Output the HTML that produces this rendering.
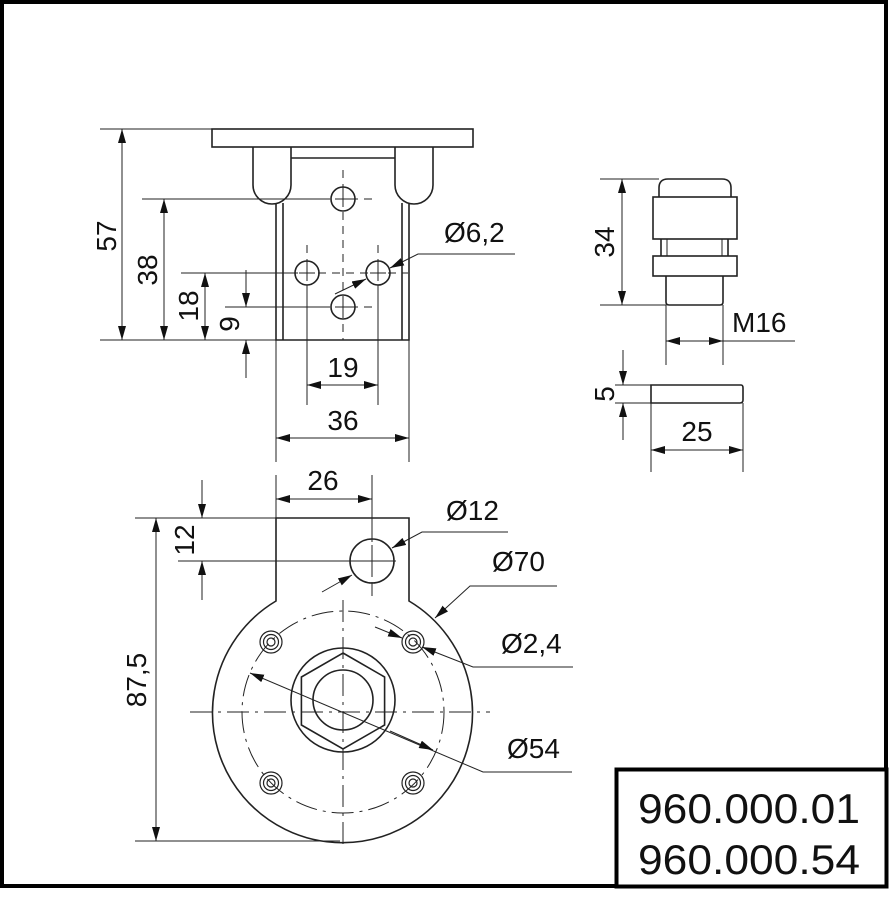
<!DOCTYPE html>
<html><head><meta charset="utf-8"><style>
html,body{margin:0;padding:0;background:#fff;}
svg{display:block;}
text{font-family:"Liberation Sans",sans-serif;fill:#111;}
</style></head><body>
<svg width="893" height="918" viewBox="0 0 893 918" xmlns="http://www.w3.org/2000/svg">
<defs>
<marker id="a" viewBox="0 0 14 8" refX="14" refY="4" markerWidth="14" markerHeight="8" markerUnits="userSpaceOnUse" orient="auto-start-reverse">
<path d="M0,0 L14,4 L0,8 Z" fill="#111"/>
</marker>
</defs>
<rect x="2" y="2" width="884" height="884" fill="none" stroke="#000" stroke-width="4"/>

<g fill="none" stroke="#222" stroke-width="1.6">
<rect x="212" y="129" width="261" height="18"/>
<path d="M253,147 V185 A19,19 0 0 0 291,185 V147"/>
<path d="M395,147 V185 A19,19 0 0 0 433,185 V147"/>
<path d="M291,158 H395"/>
<path d="M276,203 V340 H409 V203"/>
<path d="M283,203 V340 M402,203 V340"/>
<circle cx="343" cy="199" r="12"/>
<circle cx="307" cy="273" r="12"/>
<circle cx="378" cy="273" r="12"/>
<circle cx="343" cy="307" r="12"/>
</g>
<g stroke="#222" stroke-width="1" fill="none">
<path d="M335,199 H351 M343,191 V207 M299,273 H315 M307,265 V281 M370,273 H386 M378,265 V281 M335,307 H351 M343,299 V315"/>
<path d="M343,170 V340" stroke-dasharray="8,6"/>
<path d="M307,245 V340 M378,245 V340" stroke-dasharray="8,6"/>
<path d="M322,199 H373 M290,273 H408 M322,307 H373" stroke-dasharray="8,6"/>
<path d="M100,129 H212 M100,340 H276 M142,199 H322 M181,273 H290 M225,307 H322"/>
<path d="M307,285 V405 M378,285 V405 M276,340 V462 M409,340 V462"/>
<path d="M122,129 V340" marker-start="url(#a)" marker-end="url(#a)"/>
<path d="M164,199 V340" marker-start="url(#a)" marker-end="url(#a)"/>
<path d="M205,273 V340" marker-start="url(#a)" marker-end="url(#a)"/>
<path d="M246,270 V307" marker-end="url(#a)"/>
<path d="M246,378 V340" marker-end="url(#a)"/>
<path d="M307,385 H378" marker-start="url(#a)" marker-end="url(#a)"/>
<path d="M276,438 H409" marker-start="url(#a)" marker-end="url(#a)"/>
<path d="M515,254 H418 L390,268" marker-end="url(#a)"/>
<path d="M335,294 L366,279" marker-end="url(#a)"/>
</g>
<g font-size="28">
<text transform="translate(116,236) rotate(-90)" text-anchor="middle">57</text>
<text transform="translate(157,270) rotate(-90)" text-anchor="middle">38</text>
<text transform="translate(198,306) rotate(-90)" text-anchor="middle">18</text>
<text transform="translate(239,324) rotate(-90)" text-anchor="middle">9</text>
<text x="343" y="377" text-anchor="middle">19</text>
<text x="343" y="430" text-anchor="middle">36</text>
<text x="444" y="242">Ø6,2</text>
</g>

<g fill="none" stroke="#222" stroke-width="1.6">
<path d="M659,197 V188 Q659,179 668,179 H722 Q731,179 731,188 V197"/>
<rect x="653" y="197" width="84" height="42"/>
<path d="M661,239 V256 M728,239 V256"/>
<path d="M667,239 V256 M722,239 V256" stroke-width="1"/>
<rect x="653" y="256" width="84" height="20"/>
<path d="M666,276 V302 Q666,305 669,305 H720 Q723,305 723,302 V276"/>
<path d="M651,385 H741 Q743,385 743,388 V400 Q743,403 740,403 H651 Z"/>
</g>
<g stroke="#222" stroke-width="1" fill="none">
<path d="M600,179 H659 M600,305 H666 M666,305 V365 M723,305 V365 M615,385 H651 M615,403 H651 M651,403 V472 M743,403 V472"/>
<path d="M622,179 V305" marker-start="url(#a)" marker-end="url(#a)"/>
<path d="M666,341 H723" marker-start="url(#a)" marker-end="url(#a)"/>
<path d="M723,341 H795"/>
<path d="M623,350 V385" marker-end="url(#a)"/>
<path d="M623,440 V403" marker-end="url(#a)"/>
<path d="M651,450 H743" marker-start="url(#a)" marker-end="url(#a)"/>
</g>
<g font-size="28">
<text transform="translate(614,242) rotate(-90)" text-anchor="middle">34</text>
<text x="732" y="332">M16</text>
<text transform="translate(614,394) rotate(-90)" text-anchor="middle">5</text>
<text x="697" y="441" text-anchor="middle">25</text>
</g>

<g fill="none" stroke="#222" stroke-width="1.6">
<path d="M276,518 H409 V601 A130,130 0 1 1 276,601 Z"/>
<circle cx="372" cy="561" r="22"/>
<circle cx="343" cy="700" r="52"/>
<polygon points="343,653 384.6,677 384.6,725 343,749 301.4,725 301.4,677"/>
<circle cx="343" cy="700" r="30"/>
</g>
<g fill="none" stroke="#222" stroke-width="1.2">
<circle cx="271" cy="642" r="11"/><circle cx="271" cy="642" r="7.5"/><circle cx="271" cy="642" r="4"/>
<circle cx="413" cy="642" r="11"/><circle cx="413" cy="642" r="7.5"/><circle cx="413" cy="642" r="4"/>
<circle cx="271" cy="783" r="11"/><circle cx="271" cy="783" r="7.5"/><circle cx="271" cy="783" r="4"/>
<circle cx="413" cy="783" r="11"/><circle cx="413" cy="783" r="7.5"/><circle cx="413" cy="783" r="4"/>
</g>
<g stroke="#222" stroke-width="1" fill="none">
<circle cx="343" cy="712" r="101" stroke-dasharray="22,6,3,6"/>
<path d="M190,712 H490" stroke-dasharray="22,6,3,6"/>
<path d="M343,600 V850" stroke-dasharray="22,6,3,6"/>
<path d="M372,528 V600" stroke-dasharray="14,5,3,5"/>
<path d="M348,561 H396 M372,545 V577"/>
<path d="M276,475 V518 M372,475 V528 M135,518 H276 M178,561 H348 M135,841 H340"/>
<path d="M276,499 H372" marker-start="url(#a)" marker-end="url(#a)"/>
<path d="M202,480 V518" marker-end="url(#a)"/>
<path d="M202,600 V561" marker-end="url(#a)"/>
<path d="M156,518 V841" marker-start="url(#a)" marker-end="url(#a)"/>
<path d="M508,532 H422 L392,548" marker-end="url(#a)"/>
<path d="M322,592 L352,575" marker-end="url(#a)"/>
<path d="M557,586 H470 L435,618" marker-end="url(#a)"/>
<path d="M573,667 H473 L422,647" marker-end="url(#a)"/>
<path d="M375,627 L402,638" marker-end="url(#a)"/>
<path d="M572,772 H483 L250,673" marker-end="url(#a)"/>
<path d="M390,731 L433,750" marker-end="url(#a)"/>
</g>
<g font-size="28">
<text x="323" y="490" text-anchor="middle">26</text>
<text transform="translate(194,540) rotate(-90)" text-anchor="middle">12</text>
<text transform="translate(146,680) rotate(-90)" text-anchor="middle">87,5</text>
<text x="446" y="520">Ø12</text>
<text x="492" y="571">Ø70</text>
<text x="501" y="653">Ø2,4</text>
<text x="507" y="758">Ø54</text>
</g>

<rect x="616.5" y="769.5" width="270" height="117" fill="#fff" stroke="#000" stroke-width="4"/>
<text x="638" y="823" font-size="42" textLength="222" lengthAdjust="spacingAndGlyphs">960.000.01</text>
<text x="638" y="874" font-size="42" textLength="222" lengthAdjust="spacingAndGlyphs">960.000.54</text>
</svg>
</body></html>
